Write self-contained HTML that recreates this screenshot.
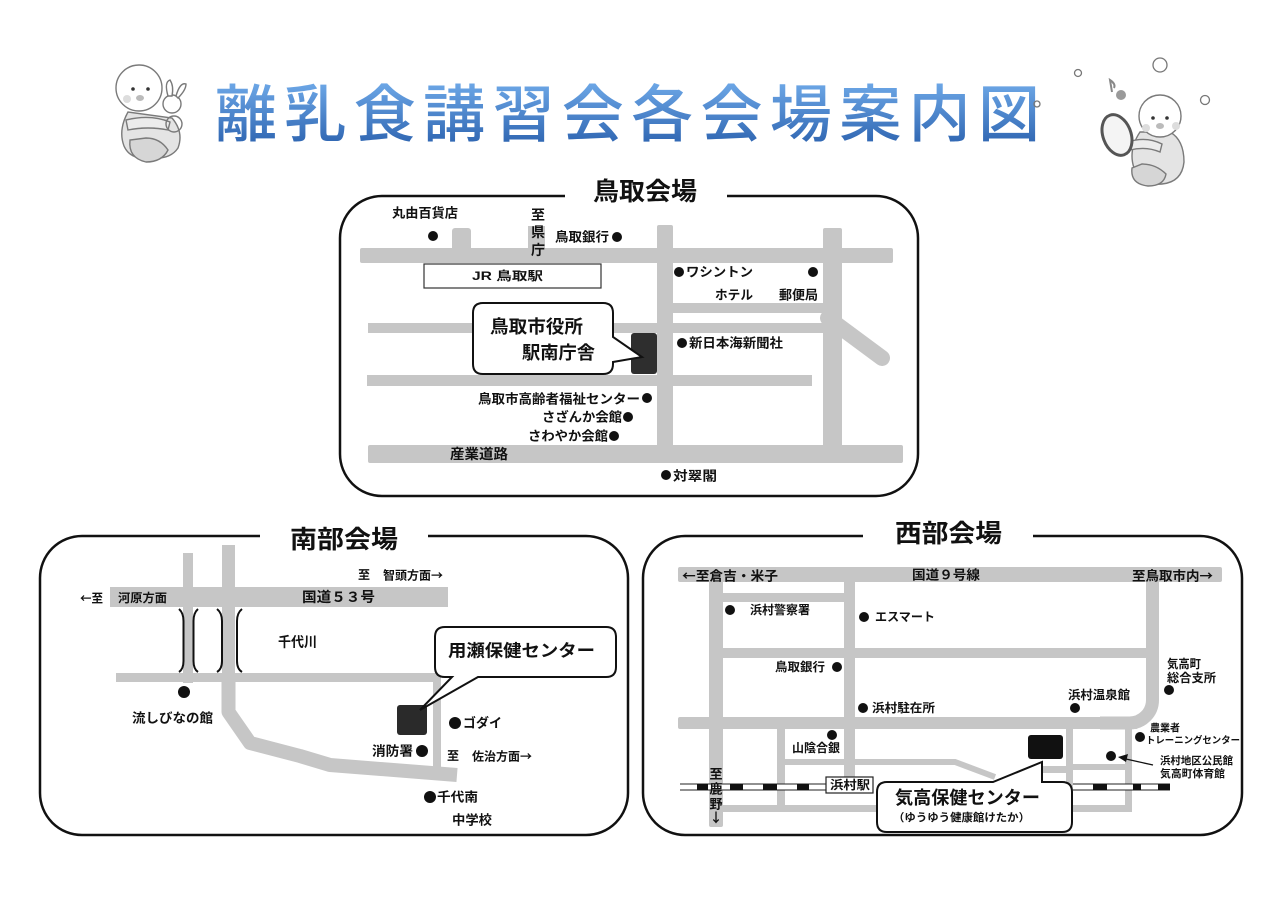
<!DOCTYPE html>
<html><head><meta charset="utf-8">
<style>
html,body{margin:0;padding:0;background:#fff;}
svg{display:block;}
text{font-family:"Liberation Sans","Noto Sans CJK JP",sans-serif;font-weight:bold;fill:#111;}
.cj{font-family:"Noto Sans CJK JP","Liberation Sans",sans-serif;}
</style></head><body>
<svg width="1280" height="904" viewBox="0 0 1280 904" xmlns="http://www.w3.org/2000/svg">
<defs>
<linearGradient id="tg" x1="0" y1="0" x2="0" y2="1">
<stop offset="0" stop-color="#6fa9e8"/>
<stop offset="1" stop-color="#2a60ad"/>
</linearGradient>
</defs>
<rect width="1280" height="904" fill="#fff"/>

<!-- ===== Title ===== -->
<text x="215" y="136" font-size="62" textLength="825" lengthAdjust="spacing" fill="url(#tg)" style="fill:url(#tg);font-weight:500">離乳食講習会各会場案内図</text>

<!-- left baby -->
<g stroke="#7a7a7a" stroke-width="1.4" fill="#fff">
<path d="M128,112 Q118,130 124,146 Q130,160 150,158 Q170,160 178,148 Q184,132 172,118 Z" fill="#e4e4e4"/>
<path d="M130,140 Q128,158 146,162 Q162,162 168,150 Q160,138 146,138 Z" fill="#d6d6d6"/>
<circle cx="139" cy="88" r="23"/>
<path d="M126,120 Q150,114 170,122 L168,130 Q148,126 128,130 Z" fill="#ececec"/>
<circle cx="172" cy="104" r="9"/>
<path d="M168,96 Q164,82 170,80 Q174,86 172,96 Z"/>
<path d="M176,96 Q180,82 186,84 Q186,90 178,98 Z"/>
<circle cx="174" cy="124" r="8" fill="none"/>
</g>
<circle cx="133" cy="89" r="1.8" fill="#333"/>
<circle cx="148" cy="89" r="1.8" fill="#333"/>
<ellipse cx="140" cy="98" rx="4" ry="3" fill="#bbb"/>
<circle cx="127" cy="99" r="4" fill="#ddd"/>

<!-- right baby -->
<g stroke="#7a7a7a" stroke-width="1.4" fill="#fff">
<path d="M1140,132 Q1128,150 1134,168 Q1140,186 1162,184 Q1182,182 1184,162 Q1184,140 1170,132 Z" fill="#e4e4e4"/>
<path d="M1132,168 Q1130,184 1148,186 Q1164,186 1166,174 Q1156,164 1142,164 Z" fill="#d6d6d6"/>
<circle cx="1160" cy="116" r="21"/>
<path d="M1128,142 Q1146,136 1162,144 L1160,152 Q1146,146 1130,150 Z" fill="#ececec"/>
</g>
<ellipse cx="1117" cy="135" rx="14" ry="21" transform="rotate(-20 1117 135)" fill="#f4f4f4" stroke="#555" stroke-width="3"/>
<circle cx="1153" cy="118" r="1.8" fill="#333"/>
<circle cx="1167" cy="118" r="1.8" fill="#333"/>
<ellipse cx="1160" cy="126" rx="4" ry="3" fill="#bbb"/>
<circle cx="1146" cy="128" r="4" fill="#ddd"/>
<circle cx="1176" cy="126" r="4" fill="#ddd"/>
<path d="M1112,92 L1110,80 Q1116,84 1114,88" stroke="#888" stroke-width="2" fill="none"/>
<circle cx="1121" cy="95" r="5" fill="#9a9a9a"/>
<g stroke="#777" stroke-width="1.3" fill="none">
<circle cx="1160" cy="65" r="7"/>
<circle cx="1205" cy="100" r="4.5"/>
<circle cx="1078" cy="73" r="3.5"/>
<circle cx="1037" cy="104" r="3"/>
</g>

<!-- ===== Tottori ===== -->
<g fill="#c6c6c6">
<rect x="360" y="248" width="533" height="15" rx="2"/>
<rect x="452" y="228" width="19" height="25" rx="3"/>
<rect x="528" y="226" width="17" height="25"/>
<rect x="657" y="225" width="16" height="228" rx="2"/>
<rect x="823" y="228" width="19" height="225" rx="2"/>
<rect x="673" y="303" width="152" height="10"/>
<rect x="368" y="323" width="457" height="10"/>
<rect x="367" y="375" width="445" height="11"/>
<rect x="368" y="445" width="535" height="18" rx="2"/>
</g>
<line x1="828" y1="318" x2="882" y2="358" stroke="#c6c6c6" stroke-width="16" stroke-linecap="round"/>
<path d="M565,196 H382 A42,42 0 0 0 340,238 V454 A42,42 0 0 0 382,496 H876 A42,42 0 0 0 918,454 V238 A42,42 0 0 0 876,196 H727" fill="none" stroke="#111" stroke-width="2.5"/>
<text x="593" y="192" font-size="25" textLength="104" lengthAdjust="spacingAndGlyphs" dominant-baseline="central">鳥取会場</text>

<rect x="424" y="264" width="177" height="24" fill="#fff" stroke="#333" stroke-width="1.2"/>
<text x="472" y="276" font-size="12" textLength="71" lengthAdjust="spacingAndGlyphs" dominant-baseline="central">JR 鳥取駅</text>

<rect x="631" y="333" width="26" height="41" rx="3" fill="#2e2e2e"/>
<path d="M483,303 H603 Q613,303 613,313 V337 L642,357 L613,362 V364 Q613,374 603,374 H483 Q473,374 473,364 V313 Q473,303 483,303 Z" fill="#fff" stroke="#111" stroke-width="2"/>
<text x="490" y="327" font-size="18" textLength="93" lengthAdjust="spacingAndGlyphs" dominant-baseline="central">鳥取市役所</text>
<text x="522" y="353" font-size="18" textLength="73" lengthAdjust="spacingAndGlyphs" dominant-baseline="central">駅南庁舎</text>

<g font-size="13">
<text x="392" y="213" textLength="66" lengthAdjust="spacingAndGlyphs" dominant-baseline="central">丸由百貨店</text>
<text x="538" y="215" font-size="14" text-anchor="middle" dominant-baseline="central">至</text>
<text x="538" y="232" font-size="14" text-anchor="middle" dominant-baseline="central">県</text>
<text x="538" y="250" font-size="14" text-anchor="middle" dominant-baseline="central">庁</text>
<text x="555" y="237" textLength="54" lengthAdjust="spacingAndGlyphs" dominant-baseline="central">鳥取銀行</text>
<text x="686" y="272" textLength="67" lengthAdjust="spacingAndGlyphs" dominant-baseline="central">ワシントン</text>
<text x="715" y="295" textLength="38" lengthAdjust="spacingAndGlyphs" dominant-baseline="central">ホテル</text>
<text x="779" y="295" textLength="39" lengthAdjust="spacingAndGlyphs" dominant-baseline="central">郵便局</text>
<text x="689" y="343" textLength="94" lengthAdjust="spacingAndGlyphs" dominant-baseline="central">新日本海新聞社</text>
<text x="478" y="399" textLength="162" lengthAdjust="spacingAndGlyphs" dominant-baseline="central">鳥取市高齢者福祉センター</text>
<text x="542" y="417" textLength="80" lengthAdjust="spacingAndGlyphs" dominant-baseline="central">さざんか会館</text>
<text x="528" y="436" textLength="80" lengthAdjust="spacingAndGlyphs" dominant-baseline="central">さわやか会館</text>
<text x="450" y="454" font-size="14" textLength="58" lengthAdjust="spacingAndGlyphs" dominant-baseline="central">産業道路</text>
<text x="673" y="476" textLength="44" lengthAdjust="spacingAndGlyphs" dominant-baseline="central">対翠閣</text>
</g>
<g fill="#111">
<circle cx="433" cy="236" r="5"/>
<circle cx="617" cy="237" r="5"/>
<circle cx="679" cy="272" r="5"/>
<circle cx="813" cy="272" r="5"/>
<circle cx="682" cy="343" r="5"/>
<circle cx="647" cy="398" r="5"/>
<circle cx="628" cy="417" r="5"/>
<circle cx="614" cy="436" r="5"/>
<circle cx="666" cy="475" r="5"/>
</g>

<!-- ===== Nanbu ===== -->
<g fill="#c6c6c6">
<rect x="110" y="587" width="338" height="20"/>
<rect x="183" y="553" width="10" height="130"/>
<rect x="222" y="545" width="13" height="140"/>
<rect x="116" y="673" width="325" height="9"/>
<rect x="433" y="673" width="8" height="97"/>
</g>
<path d="M228.5,680 V712 L250,743 L300,756 L330,765 L457,775" stroke="#c6c6c6" stroke-width="14" fill="none" stroke-linejoin="round"/>
<g stroke="#111" stroke-width="2" fill="none">
<path d="M179,609 Q183.5,613 183.5,621 V661 Q183.5,669 179,672"/>
<path d="M198,609 Q193.5,613 193.5,621 V661 Q193.5,669 198,672"/>
<path d="M217,609 Q222,613 222,621 V661 Q222,669 217,672"/>
<path d="M242,609 Q237,613 237,621 V661 Q237,669 242,672"/>
</g>
<path d="M260,536 H82 A42,42 0 0 0 40,578 V793 A42,42 0 0 0 82,835 H586 A42,42 0 0 0 628,793 V578 A42,42 0 0 0 586,536 H428" fill="none" stroke="#111" stroke-width="2.5"/>
<text x="290" y="540" font-size="25" textLength="108" lengthAdjust="spacingAndGlyphs" dominant-baseline="central">南部会場</text>

<rect x="397" y="705" width="30" height="30" rx="3" fill="#2a2a2a"/>
<path d="M445,627 H606 Q616,627 616,637 V667 Q616,677 606,677 H478 L420,710 L452,677 H445 Q435,677 435,667 V637 Q435,627 445,627 Z" fill="#fff" stroke="#111" stroke-width="2"/>
<text x="448" y="651" font-size="17" textLength="147" lengthAdjust="spacingAndGlyphs" dominant-baseline="central">用瀬保健センター</text>

<g font-size="12">
<text class="cj" x="80" y="598" textLength="23" lengthAdjust="spacingAndGlyphs" dominant-baseline="central">←至</text>
<text x="118" y="598" textLength="49" lengthAdjust="spacingAndGlyphs" dominant-baseline="central">河原方面</text>
<text x="302" y="597" font-size="14" textLength="73" lengthAdjust="spacingAndGlyphs" dominant-baseline="central">国道５３号</text>
<text x="358" y="575" dominant-baseline="central">至</text>
<text class="cj" x="383" y="575" textLength="60" lengthAdjust="spacingAndGlyphs" dominant-baseline="central">智頭方面→</text>
<text x="278" y="642" font-size="14" textLength="39" lengthAdjust="spacingAndGlyphs" dominant-baseline="central">千代川</text>
<text x="132" y="718" font-size="13" textLength="81" lengthAdjust="spacingAndGlyphs" dominant-baseline="central">流しびなの館</text>
<text x="463" y="723" font-size="13" textLength="39" lengthAdjust="spacingAndGlyphs" dominant-baseline="central">ゴダイ</text>
<text x="372" y="751" font-size="13" textLength="41" lengthAdjust="spacingAndGlyphs" dominant-baseline="central">消防署</text>
<text x="447" y="756" dominant-baseline="central">至</text>
<text class="cj" x="472" y="756" textLength="60" lengthAdjust="spacingAndGlyphs" dominant-baseline="central">佐治方面→</text>
<text x="437" y="797" font-size="13" textLength="41" lengthAdjust="spacingAndGlyphs" dominant-baseline="central">千代南</text>
<text x="452" y="820" font-size="13" textLength="40" lengthAdjust="spacingAndGlyphs" dominant-baseline="central">中学校</text>
</g>
<g fill="#111">
<circle cx="184" cy="692" r="6"/>
<circle cx="455" cy="723" r="6"/>
<circle cx="422" cy="751" r="6"/>
<circle cx="430" cy="797" r="6"/>
</g>

<!-- ===== Seibu ===== -->
<g fill="#c6c6c6">
<rect x="678" y="567" width="544" height="15" rx="2"/>
<rect x="709" y="567" width="14" height="260" rx="2"/>
<rect x="844" y="567" width="11" height="212"/>
<rect x="709" y="593" width="140" height="9"/>
<rect x="709" y="648" width="445" height="10"/>
<rect x="678" y="717" width="460" height="12" rx="2"/>
<rect x="777" y="729" width="8" height="82"/>
<rect x="1040" y="766" width="30" height="7"/>
<rect x="1073" y="764" width="52" height="6"/>
<rect x="1066" y="729" width="7" height="83"/>
<rect x="1125" y="729" width="7" height="83"/>
<rect x="723" y="805" width="409" height="7"/>
</g>
<path d="M1152.5,567 V700 A23,23 0 0 1 1129.5,723 H1100" stroke="#c6c6c6" stroke-width="13" fill="none"/>
<path d="M785,762 H955 L995,777" stroke="#c6c6c6" stroke-width="6" fill="none"/>

<!-- railway -->
<rect x="680" y="784" width="146" height="6" fill="#fff"/>
<line x1="680" y1="784" x2="826" y2="784" stroke="#222" stroke-width="1"/>
<line x1="680" y1="790" x2="826" y2="790" stroke="#222" stroke-width="1"/>
<rect x="1073" y="784" width="97" height="6" fill="#fff"/>
<line x1="1073" y1="784" x2="1170" y2="784" stroke="#222" stroke-width="1"/>
<line x1="1073" y1="790" x2="1170" y2="790" stroke="#222" stroke-width="1"/>
<g fill="#111">
<rect x="697" y="784" width="11" height="6"/>
<rect x="730" y="784" width="13" height="6"/>
<rect x="763" y="784" width="14" height="6"/>
<rect x="797" y="784" width="12" height="6"/>
<rect x="1093" y="784" width="14" height="6"/>
<rect x="1133" y="784" width="8" height="6"/>
<rect x="1158" y="784" width="12" height="6"/>
</g>
<rect x="826" y="777" width="47" height="16" fill="#fff" stroke="#222" stroke-width="1.2"/>
<text x="830" y="785" font-size="12" textLength="40" lengthAdjust="spacingAndGlyphs" dominant-baseline="central">浜村駅</text>

<path d="M863,536 H685 A42,42 0 0 0 643,578 V793 A42,42 0 0 0 685,835 H1200 A42,42 0 0 0 1242,793 V578 A42,42 0 0 0 1200,536 H1033" fill="none" stroke="#111" stroke-width="2.5"/>
<text x="895" y="534" font-size="25" textLength="107" lengthAdjust="spacingAndGlyphs" dominant-baseline="central">西部会場</text>

<rect x="1028" y="735" width="35" height="24" rx="3" fill="#111"/>
<path d="M887,782 H993 L1042,762 V782 H1062 Q1072,782 1072,792 V822 Q1072,832 1062,832 H887 Q877,832 877,822 V792 Q877,782 887,782 Z" fill="#fff" stroke="#111" stroke-width="2"/>
<text x="895" y="798" font-size="18" textLength="145" lengthAdjust="spacingAndGlyphs" dominant-baseline="central">気高保健センター</text>
<text x="893" y="818" font-size="11" textLength="137" lengthAdjust="spacingAndGlyphs" dominant-baseline="central">（ゆうゆう健康館けたか）</text>

<g font-size="12">
<text class="cj" x="682" y="575" font-size="13" textLength="96" lengthAdjust="spacingAndGlyphs" dominant-baseline="central">←至倉吉・米子</text>
<text x="912" y="575" font-size="13" textLength="68" lengthAdjust="spacingAndGlyphs" dominant-baseline="central">国道９号線</text>
<text class="cj" x="1132" y="575" font-size="13" textLength="81" lengthAdjust="spacingAndGlyphs" dominant-baseline="central">至鳥取市内→</text>
<text x="716" y="774" font-size="13" text-anchor="middle" dominant-baseline="central">至</text>
<text x="716" y="789" font-size="13" text-anchor="middle" dominant-baseline="central">鹿</text>
<text x="716" y="804" font-size="13" text-anchor="middle" dominant-baseline="central">野</text>
<text class="cj" x="716" y="817" font-size="13" text-anchor="middle" dominant-baseline="central">↓</text>
<text x="750" y="610" textLength="60" lengthAdjust="spacingAndGlyphs" dominant-baseline="central">浜村警察署</text>
<text x="875" y="617" textLength="60" lengthAdjust="spacingAndGlyphs" dominant-baseline="central">エスマート</text>
<text x="775" y="667" textLength="50" lengthAdjust="spacingAndGlyphs" dominant-baseline="central">鳥取銀行</text>
<text x="872" y="708" textLength="63" lengthAdjust="spacingAndGlyphs" dominant-baseline="central">浜村駐在所</text>
<text x="792" y="748" textLength="48" lengthAdjust="spacingAndGlyphs" dominant-baseline="central">山陰合銀</text>
<text x="1068" y="695" textLength="62" lengthAdjust="spacingAndGlyphs" dominant-baseline="central">浜村温泉館</text>
<text x="1167" y="664" textLength="34" lengthAdjust="spacingAndGlyphs" dominant-baseline="central">気高町</text>
<text x="1167" y="678" textLength="49" lengthAdjust="spacingAndGlyphs" dominant-baseline="central">総合支所</text>
<text x="1150" y="729" font-size="10" textLength="30" lengthAdjust="spacingAndGlyphs" dominant-baseline="central">農業者</text>
<text x="1146" y="741" font-size="9.5" textLength="94" lengthAdjust="spacingAndGlyphs" dominant-baseline="central">トレーニングセンター</text>
<text x="1160" y="761" font-size="10.5" textLength="73" lengthAdjust="spacingAndGlyphs" dominant-baseline="central">浜村地区公民館</text>
<text x="1160" y="774" font-size="10.5" textLength="65" lengthAdjust="spacingAndGlyphs" dominant-baseline="central">気高町体育館</text>
</g>
<g fill="#111">
<circle cx="730" cy="610" r="5"/>
<circle cx="864" cy="617" r="5"/>
<circle cx="837" cy="667" r="5"/>
<circle cx="863" cy="708" r="5"/>
<circle cx="832" cy="735" r="5"/>
<circle cx="1075" cy="708" r="5"/>
<circle cx="1169" cy="690" r="5"/>
<circle cx="1140" cy="737" r="5"/>
<circle cx="1111" cy="756" r="5"/>
</g>
<line x1="1153" y1="765" x2="1126" y2="759" stroke="#111" stroke-width="1.3"/>
<polygon points="1118,757 1128,754 1126,762" fill="#111"/>
</svg>
</body></html>
